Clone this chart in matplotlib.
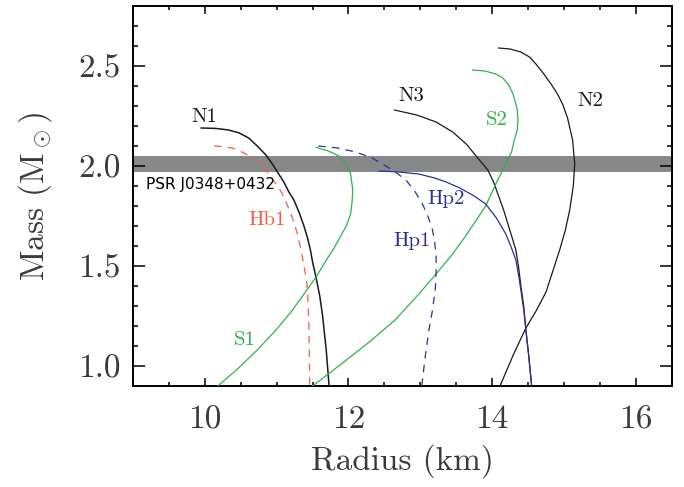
import matplotlib
matplotlib.use("Agg")
import matplotlib.pyplot as plt
from matplotlib.ticker import MultipleLocator, FixedLocator, FormatStrFormatter

plt.rcParams['font.family'] = ['cmr10', 'DejaVu Serif']
plt.rcParams['mathtext.fontset'] = 'cm'
plt.rcParams['axes.formatter.use_mathtext'] = True

# ---- data (radius km, mass Msun) ----
n1_r = [9.95, 10.15, 10.33, 10.48, 10.61, 10.73, 10.85, 10.94, 11.01, 11.10, 11.17, 11.24,
        11.31, 11.38, 11.43, 11.47, 11.50, 11.55, 11.60, 11.64, 11.69, 11.73]
n1_m = [2.19, 2.188, 2.18, 2.165, 2.14, 2.10, 2.055, 2.01, 1.97, 1.92, 1.87, 1.83,
        1.77, 1.70, 1.64, 1.58, 1.52, 1.44, 1.35, 1.25, 1.08, 0.90]

hb1_r = [10.13, 10.25, 10.38, 10.48, 10.57, 10.66, 10.75, 10.82, 10.89, 10.96, 11.03, 11.08,
         11.12, 11.21, 11.29, 11.34, 11.38, 11.41, 11.43, 11.45, 11.46]
hb1_m = [2.10, 2.097, 2.09, 2.077, 2.06, 2.04, 2.02, 1.99, 1.96, 1.925, 1.89, 1.86,
         1.83, 1.75, 1.66, 1.58, 1.50, 1.44, 1.38, 1.20, 0.90]

s1_r = [11.55, 11.72, 11.87, 11.96, 12.03, 12.06, 12.05, 12.03, 11.97, 11.89, 11.80, 11.71,
        11.54, 11.40, 11.20, 10.99, 10.73, 10.47, 10.18]
s1_m = [2.093, 2.075, 2.05, 2.01, 1.96, 1.88, 1.82, 1.76, 1.70, 1.65, 1.59, 1.54,
        1.44, 1.37, 1.27, 1.18, 1.08, 0.99, 0.90]

s2_r = [11.50, 11.90, 12.29, 12.65, 12.98, 13.22, 13.45, 13.63, 13.78, 13.91, 14.05, 14.19,
        14.27, 14.31, 14.35, 14.36, 14.35, 14.33, 14.29, 14.24, 14.15, 14.05, 13.90, 13.73]
s2_m = [0.90, 1.01, 1.12, 1.23, 1.36, 1.46, 1.56, 1.65, 1.73, 1.80, 1.91, 2.01,
        2.07, 2.13, 2.18, 2.23, 2.28, 2.31, 2.36, 2.40, 2.44, 2.46, 2.475, 2.48]

n2_r = [14.09, 14.25, 14.40, 14.52, 14.61, 14.72, 14.82, 14.91, 14.98, 15.05, 15.12, 15.15,
        15.13, 15.08, 15.02, 14.94, 14.85, 14.75, 14.62, 14.47, 14.30, 14.11]
n2_m = [2.59, 2.585, 2.57, 2.545, 2.51, 2.46, 2.41, 2.36, 2.31, 2.24, 2.13, 2.01,
        1.90, 1.78, 1.68, 1.58, 1.48, 1.37, 1.28, 1.19, 1.06, 0.90]

n3_r = [12.64, 12.95, 13.22, 13.45, 13.64, 13.80, 13.94, 14.02, 14.08, 14.16, 14.22, 14.28,
        14.33, 14.37, 14.40, 14.44, 14.47, 14.51, 14.55]
n3_m = [2.28, 2.255, 2.22, 2.17, 2.11, 2.04, 1.98, 1.92, 1.86, 1.78, 1.71, 1.64,
        1.58, 1.49, 1.40, 1.30, 1.18, 1.05, 0.90]

hp2_r = [12.43, 12.70, 12.98, 13.20, 13.36, 13.55, 13.75, 13.91, 14.06, 14.19, 14.27, 14.33,
         14.37, 14.40, 14.44, 14.47, 14.51, 14.55]
hp2_m = [1.975, 1.97, 1.96, 1.94, 1.92, 1.89, 1.85, 1.81, 1.74, 1.66, 1.59, 1.53,
         1.45, 1.38, 1.28, 1.18, 1.05, 0.90]

hp1_r = [11.58, 11.85, 12.10, 12.33, 12.52, 12.67, 12.80, 12.93, 13.03, 13.11, 13.17, 13.20,
         13.22, 13.22, 13.21, 13.17, 13.12, 13.07, 13.02]
hp1_m = [2.10, 2.09, 2.07, 2.04, 2.00, 1.965, 1.93, 1.87, 1.81, 1.745, 1.68, 1.62,
         1.55, 1.47, 1.39, 1.28, 1.18, 1.05, 0.90]

psr_band = [1.97, 2.05]

x_ticks = [10, 12, 14, 16]
y_ticks = [1.0, 1.5, 2.0, 2.5]

GREEN = '#2fb34c'
RED = '#f1603c'
BLUE = '#2e3192'
BLACK = '#1a1a1a'
TXT = '#3a3a3a'

fig = plt.figure(figsize=(6.84, 4.87), dpi=100)
ax = fig.add_axes([133/684, 1-386/487, (671.7-133)/684, (386-6)/487])

ax.axhspan(psr_band[0], psr_band[1], color='#878889', lw=0, zorder=1)

lw = 0.9
ax.plot(n1_r, n1_m, color=BLACK, lw=1.1, zorder=3)
ax.plot(n2_r, n2_m, color=BLACK, lw=lw, zorder=3)
ax.plot(n3_r, n3_m, color=BLACK, lw=lw, zorder=3)
ax.plot(s1_r, s1_m, color=GREEN, lw=lw, zorder=3)
ax.plot(s2_r, s2_m, color=GREEN, lw=lw, zorder=3)
ax.plot(hp2_r, hp2_m, color=BLUE, lw=lw, zorder=3)
l1, = ax.plot(hb1_r, hb1_m, color=RED, lw=lw, zorder=3)
l1.set_dashes([6, 5])
l2, = ax.plot(hp1_r, hp1_m, color=BLUE, lw=lw, zorder=3)
l2.set_dashes([6, 5])

ax.set_xlim(9, 16.5)
ax.set_ylim(0.9, 2.8)

ax.xaxis.set_major_locator(FixedLocator(x_ticks))
ax.xaxis.set_minor_locator(MultipleLocator(0.5))
ax.yaxis.set_major_locator(FixedLocator(y_ticks))
ax.yaxis.set_minor_locator(MultipleLocator(0.1))
ax.xaxis.set_major_formatter(FormatStrFormatter('%d'))
ax.yaxis.set_major_formatter(FormatStrFormatter('%.1f'))

ax.tick_params(axis='both', which='both', direction='in', top=True, right=True,
               width=1.1, color='black', labelcolor=TXT, labelsize=24)
ax.tick_params(axis='x', which='major', length=5.5, pad=14)
ax.tick_params(axis='x', which='minor', length=3)
ax.tick_params(axis='y', which='major', length=8.5, pad=9)
ax.tick_params(axis='y', which='minor', length=3.8)
for s in ax.spines.values():
    s.set_linewidth(1.4)

ax.set_xlabel('Radius (km)', fontsize=24, color=TXT, labelpad=7)
ax.set_ylabel(r'Mass (M$_\odot$)', fontsize=24, color=TXT, labelpad=17)

lab = dict(fontsize=15, ha='center', va='center', zorder=4)
ax.text(9.99, 2.245, 'N1', color=BLACK, **lab)
ax.text(12.87, 2.35, 'N3', color=BLACK, **lab)
ax.text(15.37, 2.325, 'N2', color=BLACK, **lab)
ax.text(14.07, 2.23, 'S2', color=GREEN, **lab)
ax.text(10.56, 1.13, 'S1', color=GREEN, **lab)
ax.text(10.86, 1.73, 'Hb1', color=RED, **lab)
ax.text(13.36, 1.835, 'Hp2', color=BLUE, **lab)
ax.text(12.89, 1.625, 'Hp1', color=BLUE, **lab)
ax.text(9.18, 1.91, 'PSR J0348+0432', color='black', fontsize=11,
        family='DejaVu Sans', ha='left', va='center', zorder=4)

fig.savefig('out.png', dpi=100)
